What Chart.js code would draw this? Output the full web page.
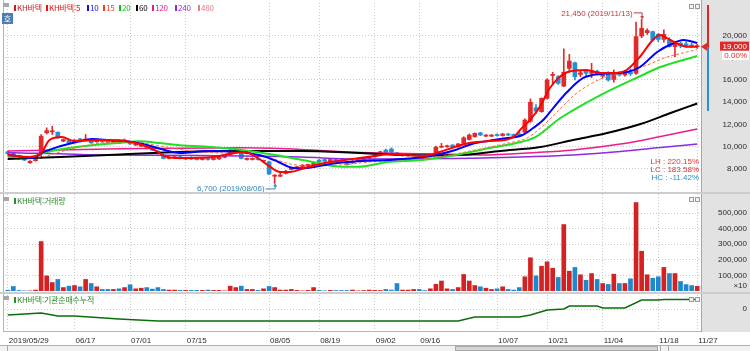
<!DOCTYPE html>
<html lang="ko">
<head>
<meta charset="utf-8">
<title>KH바텍</title>
<script src="https://cdn.jsdelivr.net/npm/chart.js@4.4.1/dist/chart.umd.min.js"></script>
<style>
  html, body { margin: 0; padding: 0; }
  body { width: 750px; height: 351px; overflow: hidden; position: relative; background: #fff;
         font-family: 'Noto Sans CJK KR', 'Liberation Sans', sans-serif; }
  .abs { position: absolute; }
  canvas { position: absolute; left: 0; z-index: 1; }
  .lg { position: absolute; font-size: 8px; line-height: 10px; white-space: nowrap; z-index: 2; letter-spacing: -0.2px; }
  .lg i { display: inline-block; width: 2px; height: 6px; margin-right: 1px; }
  .btn { position: absolute; width: 3px; height: 3px; border: 1px solid #9a9a9a; background: #f2f2f2; z-index: 2; }
  .ico { position: absolute; width: 6px; height: 4px; background: #a8a8a8; z-index: 2; }
</style>
</head>
<body>

<!-- 배경 / 테두리 -->
<div class="abs" style="left:701px;top:0;width:49px;height:332px;background:#e2e2e2;border-left:1px solid #a6a6a6;box-sizing:border-box"></div>
<div class="abs" style="left:3px;top:0;width:1px;height:332px;background:#b4b4b4"></div>
<div class="abs" style="left:707px;top:5px;width:2px;height:42px;background:#e02828"></div>
<div class="abs" style="left:707px;top:47px;width:2px;height:64px;background:#2590d5"></div>

<canvas id="price" width="750" height="192" style="top:0"></canvas>
<canvas id="vol" width="750" height="100" style="top:192px"></canvas>
<canvas id="inst" width="750" height="59" style="top:292px"></canvas>

<!-- 패널 구분선 -->
<div class="abs" style="left:0;top:192px;width:750px;height:2px;background:#cdcdcd;z-index:2"></div>
<div class="abs" style="left:0;top:292px;width:750px;height:2px;background:#cdcdcd;z-index:2"></div>
<div class="abs" style="left:3px;top:331px;width:698px;height:1px;background:#b4b4b4;z-index:2"></div>

<!-- 범례 -->
<div class="ico" style="left:3px;top:3px"></div>
<div id="legend"></div>
<div class="abs" style="left:2px;top:13px;width:11px;height:11px;background:#4f7db3;color:#fff;font-size:8px;line-height:11px;text-align:center;z-index:2">호</div>
<div class="btn" style="left:689px;top:4px"></div><div class="btn" style="left:695px;top:4px"></div>

<div class="ico" style="left:3px;top:197px"></div>
<div class="lg" style="left:14px;top:196px;color:#2e8b2e"><i style="background:#2e8b2e"></i>KH바텍:거래량</div>
<div class="btn" style="left:689px;top:197px"></div><div class="btn" style="left:695px;top:197px"></div>

<div class="ico" style="left:3px;top:296px"></div>
<div class="lg" style="left:14px;top:295px;color:#2e8b2e"><i style="background:#2e8b2e"></i>KH바텍:기관순매수누적</div>
<div class="btn" style="left:689px;top:297px"></div><div class="btn" style="left:695px;top:297px"></div>

<!-- 스크롤바 -->
<div class="abs" style="left:0;top:345px;width:750px;height:6px;background:#f2f2f2;border-top:1px solid #b0b0b0;box-sizing:border-box;z-index:2"></div>
<div class="abs" style="left:455px;top:346px;width:203px;height:5px;background:#d6d6d6;border:1px solid #a8a8a8;box-sizing:border-box;z-index:2"></div>
<div class="abs" style="left:0;top:346px;width:7px;height:5px;border-right:1px solid #a8a8a8;z-index:2"></div>
<div class="abs" style="left:660px;top:346px;width:7px;height:5px;border-left:1px solid #a8a8a8;border-right:1px solid #a8a8a8;z-index:2"></div>

<script>
// x축 날짜 눈금 (거래일 인덱스)
const tickIdx = [0, 12, 22, 32, 47, 56, 66, 74, 88, 97, 107, 117, 124];
const tickLabels = ['2019/05/29', '06/17', '07/01', '07/15', '08/05', '08/19', '09/02', '09/16', '10/07', '10/21', '11/04', '11/18', '11/27'];

// 일봉 (2019/05/29 ~ 2019/11/27)
const opens = [9550, 9400, 9200, 8950, 8560, 8750, 9450, 11250, 11350, 11300,
  10500, 10550, 10400, 10700, 10600, 10700, 10450, 10600, 10550, 10400,
  10550, 10450, 10450, 10150, 10050, 10000, 9900, 9600, 9250, 8950,
  9000, 9100, 8900, 9050, 8950, 8850, 8950, 8850, 8900, 9050,
  9300, 9650, 9600, 8850, 8850, 8900, 8700, 8650, 7350, 7350,
  7600, 7950, 8060, 8220, 8300, 8360, 8800, 8850, 8700, 8850,
  8800, 8650, 8550, 8700, 8800, 8950, 9100, 9400, 9700, 9800,
  9450, 9200, 9200, 9250, 9300, 9250, 9250, 9350, 9950, 10000,
  10150, 10000, 10300, 10650, 10900, 11250, 10950, 10950, 11100, 11000,
  11150, 11100, 11150, 11300, 12300, 13500, 13150, 14350, 16400, 16300,
  15450, 17050, 17550, 16500, 16800, 16600, 16800, 16350, 16650, 16050,
  16600, 16450, 16700, 16600, 19950, 20250, 20350, 20100, 19650, 19600,
  19000, 19300, 19250, 19150, 19000];
const highs = [9600, 9450, 9250, 9000, 8750, 8900, 11100, 11700, 11850, 11350,
  10700, 10600, 10650, 10750, 11100, 10750, 10650, 10650, 10600, 10550,
  10600, 10700, 10500, 10300, 10200, 10050, 9950, 9650, 9300, 9100,
  9150, 9150, 9050, 9100, 9000, 9000, 9000, 9000, 9100, 9250,
  9800, 9850, 9650, 9000, 9000, 8950, 8800, 8700, 7500, 7750,
  7900, 8150, 8250, 8400, 8450, 8550, 8850, 8900, 8900, 8900,
  8850, 8700, 8750, 8900, 9000, 9150, 9300, 9600, 9800, 9900,
  9500, 9350, 9350, 9400, 9350, 9300, 9400, 10050, 10300, 10150,
  10200, 10300, 10900, 11150, 11250, 11300, 11100, 11100, 11150, 11200,
  11200, 11150, 11350, 12500, 14300, 13800, 14400, 16100, 16700, 16400,
  18800, 18300, 17600, 16900, 16900, 17500, 16900, 16600, 16750, 16900,
  16700, 16800, 17000, 21200, 21450, 20600, 20400, 20200, 20500, 19800,
  19500, 19400, 19400, 19300, 19200];
const lows = [9300, 9200, 8850, 8750, 8500, 8700, 8950, 11150, 11100, 10750,
  10450, 10300, 10350, 10400, 10500, 10300, 10400, 10400, 10350, 10350,
  10350, 10400, 10200, 10100, 10000, 9800, 9650, 9350, 8900, 8900,
  8950, 8900, 8850, 8850, 8800, 8800, 8800, 8800, 8850, 9000,
  9250, 9600, 8900, 8800, 8800, 8800, 8600, 7500, 6700, 7300,
  7550, 7900, 8000, 8200, 8250, 8300, 8600, 8650, 8650, 8650,
  8650, 8350, 8500, 8650, 8750, 8900, 9050, 9350, 9400, 9450,
  9200, 9150, 9150, 9200, 9150, 9150, 9200, 9300, 9900, 9950,
  9950, 9950, 10250, 10600, 10850, 11000, 10900, 10900, 10950, 10950,
  11000, 10950, 11000, 11250, 12200, 13000, 13100, 14300, 15600, 15600,
  15400, 16700, 16000, 16300, 16400, 16200, 16450, 16200, 15900, 15800,
  16350, 16350, 16400, 16500, 19800, 20100, 19500, 19450, 19400, 18950,
  18100, 18900, 18950, 18900, 18850];
const closes = [9380, 9250, 8900, 8800, 8700, 8850, 10950, 11450, 11400, 10800,
  10650, 10350, 10600, 10450, 10650, 10350, 10600, 10450, 10400, 10500,
  10400, 10600, 10250, 10250, 10150, 9850, 9700, 9400, 8950, 9050,
  9100, 8950, 9000, 8900, 8850, 8950, 8850, 8950, 9050, 9200,
  9700, 9750, 8950, 8950, 8950, 8850, 8750, 7550, 7450, 7450,
  7800, 8100, 8200, 8350, 8420, 8500, 8650, 8700, 8850, 8700,
  8700, 8400, 8700, 8800, 8950, 9100, 9250, 9550, 9450, 9500,
  9250, 9300, 9300, 9350, 9200, 9200, 9350, 9950, 10050, 10050,
  10000, 10250, 10800, 11050, 11200, 11050, 11050, 11050, 11000, 11150,
  11050, 11000, 11050, 12400, 14000, 13200, 14350, 16000, 16500, 15700,
  16700, 17700, 16300, 16650, 16600, 16850, 16550, 16450, 16000, 16600,
  16450, 16650, 16550, 19900, 20650, 20450, 19600, 19650, 20100, 19000,
  19250, 19050, 19100, 19000, 19000];
const hiDate = '2019/11/13';
const loDate = '2019/08/06';

// 거래량
const volumes = [5000, 29000, 3000, 1000, 1000, 6000, 317000, 97000, 54000, 74000,
  22000, 31000, 35000, 27000, 74000, 48000, 27000, 10000, 10000, 10000,
  14000, 22000, 40000, 14000, 18000, 22000, 12000, 22000, 10000, 6000,
  6000, 4000, 4000, 4000, 4000, 4000, 6000, 4000, 4000, 1000,
  31000, 22000, 31000, 10000, 10000, 4000, 14000, 29000, 22000, 6000,
  6000, 10000, 4000, 1000, 4000, 22000, 4000, 1000, 4000, 3000,
  3000, 3000, 6000, 1000, 3000, 6000, 4000, 3000, 10000, 6000,
  48000, 6000, 6000, 10000, 10000, 3000, 14000, 43000, 64000, 14000,
  10000, 22000, 106000, 64000, 35000, 27000, 18000, 10000, 14000, 27000,
  10000, 6000, 22000, 91000, 213000, 97000, 159000, 187000, 146000, 87000,
  426000, 127000, 151000, 104000, 69000, 112000, 74000, 48000, 42000, 108000,
  48000, 48000, 78000, 567000, 255000, 104000, 82000, 91000, 151000, 112000,
  112000, 61000, 41000, 35000, 30000];

// 이동평균선 [거래일 인덱스, 가격]
const ma5 = [[0, 9260], [4, 9080], [6, 9440], [7.5, 10600], [9.7, 10870], [12, 10510], [16.5, 10600], [21, 10510],
  [23.7, 10240], [26.4, 9700], [28.2, 9160], [31, 8980], [37, 9080], [40.8, 9440], [42.6, 9530], [45, 8980],
  [47, 8260], [49, 7730], [50.7, 7730], [53.4, 8090], [57, 8540], [60.6, 8810], [63.3, 8990], [66, 9170],
  [68.7, 9350], [71.4, 9260], [75, 9170], [77.7, 9530], [80.4, 9980], [83, 10340], [86.7, 10520], [89.4, 10610],
  [91.2, 10970], [92.1, 11500], [93.9, 12400], [95.7, 13600], [97.5, 15280], [99.3, 16300], [100.7, 16720],
  [104.1, 16900], [106.5, 16630], [109.5, 16630], [111.3, 16900], [113.7, 18090], [116, 19600], [117.3, 20040],
  [118.5, 19780], [120.3, 19300], [122.1, 19000], [124, 19000]];
const ma10 = [[0, 9290], [4.5, 8990], [6.3, 9500], [9.4, 10040], [12.4, 10430], [15.3, 10700], [18.4, 10580],
  [21.4, 10490], [24.3, 10250], [27.4, 9820], [31, 9440], [36, 9620], [42.1, 9500], [46.3, 9100], [48.6, 8650],
  [51.1, 8110], [52.9, 8060], [55.3, 8200], [58.9, 8510], [63, 8690], [68.4, 8810], [74.5, 9050], [76.9, 9260],
  [80.5, 9710], [83.5, 10250], [86.4, 10520], [89.5, 10760], [92.5, 11030], [94.5, 11680], [96.3, 12400],
  [98.1, 13480], [100.6, 14920], [103.5, 16180], [106.6, 16540], [111.4, 16720], [113.7, 17170], [116.8, 18520],
  [119.7, 19300], [121.5, 19590], [124, 19330]];
const ma15 = [[0, 9170], [5.8, 9080], [9.4, 9530], [13, 9980], [16.6, 10330], [22, 10430], [27.4, 10070],
  [32.8, 9620], [38.2, 9440], [43.6, 9350], [47.2, 8990], [50.8, 8450], [54.4, 8270], [59.8, 8360], [65.2, 8630],
  [70.6, 8810], [76, 8990], [79.6, 9260], [83.2, 9620], [86.8, 9980], [89.8, 10310], [93.4, 10790], [95.8, 11680],
  [98.8, 13120], [101.7, 14560], [104.8, 15640], [107.1, 16180], [111.4, 16720], [115, 17350], [118.6, 18070],
  [122.2, 18520], [124, 18740]];
const ma20 = [[0, 9080], [3.4, 9050], [7.6, 9590], [13.5, 10040], [19.6, 10330], [23.8, 10490], [27.4, 10330],
  [31, 10130], [36, 10000], [42.1, 9710], [48.1, 9260], [54, 8720], [60.1, 8200], [63, 8200], [68.4, 8630],
  [74.5, 8810], [80.5, 9260], [86.4, 9860], [91.3, 10310], [94.9, 10870], [99.4, 12580], [106.6, 14650],
  [113.8, 16360], [117.4, 17170], [124, 18160]];
const ma60 = [[0, 8900], [9.4, 9080], [20.2, 9300], [31, 9530], [41.8, 9620], [52.6, 9620], [63.4, 9440],
  [74.2, 9210], [81.4, 9260], [88.6, 9620], [95.8, 9980], [101.7, 10610], [107.8, 11230], [113.8, 12040],
  [119.2, 13030], [124, 13890]];
const ma120 = [[0, 9620], [20.2, 9810], [41.8, 9900], [52.6, 9760], [63.4, 9490], [76, 9360], [85, 9260],
  [94.9, 9480], [101.7, 9710], [110.2, 10240], [117.4, 10920], [124, 11590]];
const ma240 = [[0, 9490], [16.6, 9260], [34.6, 9210], [52.6, 9080], [62.5, 8900], [80.5, 8940], [94.9, 9120],
  [101.7, 9260], [110.2, 9570], [117.4, 9930], [124, 10250]];

// 기관 순매수 누적 [거래일 인덱스, 주]
const instAcc = [[0, -6000], [6, -4000], [9, -7000], [12, -7000], [20, -10000], [27, -12000], [81, -12000],
  [84, -8000], [92, -8000], [94, -6000], [97, -1000], [100, 0], [101, 3000], [106, 3000], [107, 1000],
  [111, 1000], [114, 9000], [117, 9000], [118, 9500], [124, 9500]];

// 축 눈금
const priceTicks = [8000, 10000, 12000, 14000, 16000, 18000, 20000];
const volTicks = [100000, 200000, 300000, 400000, 500000];
const instTicks = [0];

const RED = '#e32a2a';
const BLUE = '#2590d5';
const VRED = '#d42222';
const VBLUE = '#1f88cc';
const GRID = '#c9c9c9';
const AXIS_FONT = '8px "Liberation Sans", Arial, sans-serif';

// 범례
const legendItems = [
  [14, '#c81e1e', 'KH바텍'], [46, '#e81010', 'KH바텍:5'], [87, '#1010e0', '10'], [103, '#f04020', '15'],
  [119, '#10c010', '20'], [136, '#000000', '60'], [152, '#e0208a', '120'], [175, '#8a2be2', '240'], [198, '#e67c8c', '480']
];
document.getElementById('legend').innerHTML = legendItems.map(([x, c, t]) =>
  `<div class="lg" style="left:${x}px;top:3px;color:${c}"><i style="background:${c}"></i>${t}</div>`).join('');

const idx = opens.map((_, i) => i);
const isUp = i => closes[i] >= opens[i];
const fmt = v => v.toLocaleString('en-US');

function xAxis() {
  return {
    type: 'linear', min: -0.5, max: 124.5, offset: false,
    afterBuildTicks: s => { s.ticks = tickIdx.map(v => ({ value: v })); },
    grid: { color: GRID, drawTicks: false, offset: false },
    border: { display: false, dash: [1, 2] },
    ticks: { display: false, autoSkip: false }
  };
}

function yAxis(min, max, ticks) {
  return {
    position: 'right', min, max,
    afterBuildTicks: s => { s.ticks = ticks.map(v => ({ value: v })); },
    grid: { color: GRID, drawTicks: false },
    border: { display: false, dash: [1, 2] },
    ticks: { display: false }
  };
}

function maSet(pts, color, width, order, dash) {
  return {
    type: 'line', data: pts.map(([x, y]) => ({ x, y })),
    borderColor: color, borderWidth: width, borderDash: dash || [],
    pointRadius: 0, cubicInterpolationMode: 'monotone', fill: false, order
  };
}

const baseOpts = padding => ({
  responsive: false, animation: false, events: [],
  layout: { padding },
  plugins: { legend: { display: false }, tooltip: { enabled: false } }
});

// 가격 패널 위 글자들
const priceOverlay = {
  id: 'priceOverlay',
  afterDraw(chart) {
    const { ctx, scales: { x, y } } = chart;
    ctx.save();
    ctx.font = AXIS_FONT;
    ctx.textBaseline = 'middle';

    // y축 눈금 글자
    ctx.fillStyle = '#2a2a2a';
    ctx.textAlign = 'right';
    priceTicks.forEach(v => ctx.fillText(fmt(v), 747, y.getPixelForValue(v)));

    // 최고가 / 최저가 표시
    const hi = Math.max(...highs), hiI = highs.indexOf(hi);
    const lo = Math.min(...lows), loI = lows.indexOf(lo);
    const hx = x.getPixelForValue(hiI), hy = y.getPixelForValue(hi);
    const lx = x.getPixelForValue(loI), ly = y.getPixelForValue(lo);

    ctx.fillStyle = ctx.strokeStyle = '#c03a3a';
    ctx.lineWidth = 1;
    ctx.fillText(`${fmt(hi)} (${hiDate})`, hx - 9, hy - 6);
    ctx.beginPath();
    ctx.moveTo(hx - 8, hy - 6.5); ctx.lineTo(hx + 0.5, hy - 6.5); ctx.lineTo(hx + 0.5, hy - 1);
    ctx.stroke();
    ctx.beginPath();
    ctx.moveTo(hx - 1.5, hy - 3); ctx.lineTo(hx + 2.5, hy - 3); ctx.lineTo(hx + 0.5, hy); ctx.fill();

    ctx.fillStyle = ctx.strokeStyle = '#2f86c4';
    ctx.fillText(`${fmt(lo)} (${loDate})`, lx - 10, ly + 5);
    ctx.beginPath();
    ctx.moveTo(lx - 9, ly + 5.5); ctx.lineTo(lx + 0.5, ly + 5.5); ctx.lineTo(lx + 0.5, ly + 1);
    ctx.stroke();
    ctx.beginPath();
    ctx.moveTo(lx - 1.5, ly + 3); ctx.lineTo(lx + 2.5, ly + 3); ctx.lineTo(lx + 0.5, ly); ctx.fill();

    // 등락률
    const last = closes[closes.length - 1], prev = closes[closes.length - 2];
    const rows = [
      ['LH : ' + ((hi / lo - 1) * 100).toFixed(2) + '%', '#e03434'],
      ['LC : ' + ((last / lo - 1) * 100).toFixed(2) + '%', '#e03434'],
      ['HC : ' + ((last / hi - 1) * 100).toFixed(2) + '%', '#2b8fd0']
    ];
    rows.forEach(([t, c], k) => { ctx.fillStyle = c; ctx.fillText(t, 699, 161.5 + k * 8); });

    // 현재가 표시
    const py = y.getPixelForValue(last);
    ctx.fillStyle = '#e02828';
    ctx.beginPath();
    ctx.moveTo(701, py); ctx.lineTo(707, py - 4); ctx.lineTo(707, py + 4); ctx.fill();
    ctx.fillRect(720, py - 5, 29, 9);
    ctx.fillStyle = '#fff';
    ctx.fillText(fmt(last), 747, py);
    ctx.fillStyle = '#fff';
    ctx.fillRect(722, py + 4.5, 27, 9);
    ctx.fillStyle = '#e02828';
    ctx.fillText(((last / prev - 1) * 100).toFixed(2) + '%', 747, py + 9);
    ctx.restore();
  }
};

new Chart(document.getElementById('price'), {
  type: 'bar',
  data: {
    datasets: [
      maSet(ma5, '#ff0000', 2, 0),
      maSet(ma10, '#0000ff', 2, 1),
      maSet(ma15, '#ff6a3d', 1, 2, [3, 2]),
      maSet(ma20, '#22e022', 2, 3),
      maSet(ma60, '#000000', 2, 4),
      maSet(ma120, '#ee1c8a', 1.5, 5),
      maSet(ma240, '#8b2be2', 1.5, 6),
      {
        type: 'bar', order: 20, grouped: false, barThickness: 1,
        data: idx.map(i => ({ x: i, y: [lows[i], highs[i]] })),
        backgroundColor: idx.map(i => isUp(i) ? RED : BLUE)
      },
      {
        type: 'bar', order: 19, grouped: false, barThickness: 4, minBarLength: 1,
        data: idx.map(i => ({ x: i, y: [opens[i], closes[i]] })),
        backgroundColor: idx.map(i => isUp(i) ? RED : BLUE)
      }
    ]
  },
  options: {
    ...baseOpts({ left: 5, top: 3, right: 50, bottom: 1 }),
    scales: { x: xAxis(), y: yAxis(6021, 22922, priceTicks) }
  },
  plugins: [priceOverlay]
});

// 거래량 패널
const volOverlay = {
  id: 'volOverlay',
  afterDraw(chart) {
    const { ctx, scales: { y } } = chart;
    ctx.save();
    ctx.font = AXIS_FONT;
    ctx.fillStyle = '#2a2a2a';
    ctx.textAlign = 'right';
    ctx.textBaseline = 'middle';
    volTicks.forEach(v => ctx.fillText(fmt(v), 747, y.getPixelForValue(v)));
    ctx.fillText('×10', 747, y.getPixelForValue(0) - 5);
    ctx.restore();
  }
};

new Chart(document.getElementById('vol'), {
  type: 'bar',
  data: {
    datasets: [{
      grouped: false, barThickness: 4,
      data: idx.map(i => ({ x: i, y: volumes[i] })),
      backgroundColor: idx.map(i => isUp(i) ? VRED : VBLUE)
    }]
  },
  options: {
    ...baseOpts({ left: 5, top: 2, right: 50, bottom: 1 }),
    scales: { x: xAxis(), y: yAxis(0, 621800, volTicks) }
  },
  plugins: [volOverlay]
});

// 기관순매수누적 패널 + 날짜 눈금
const instOverlay = {
  id: 'instOverlay',
  afterDraw(chart) {
    const { ctx, scales: { x, y } } = chart;
    ctx.save();
    ctx.font = AXIS_FONT;
    ctx.fillStyle = '#2a2a2a';
    ctx.textBaseline = 'middle';
    ctx.textAlign = 'right';
    instTicks.forEach(v => ctx.fillText(fmt(v), 747, y.getPixelForValue(v)));
    ctx.textAlign = 'left';
    tickIdx.forEach((v, k) => ctx.fillText(tickLabels[k], x.getPixelForValue(v) + 1, 49));
    ctx.restore();
  }
};

new Chart(document.getElementById('inst'), {
  type: 'line',
  data: {
    datasets: [{
      data: instAcc.map(([x, y]) => ({ x, y })),
      borderColor: '#0b6e0b', borderWidth: 1.5, pointRadius: 0, tension: 0, fill: false
    }]
  },
  options: {
    ...baseOpts({ left: 5, top: 3, right: 50, bottom: 20 }),
    scales: { x: xAxis(), y: yAxis(-22000, 14000, instTicks) }
  },
  plugins: [instOverlay]
});
</script>
</body>
</html>
